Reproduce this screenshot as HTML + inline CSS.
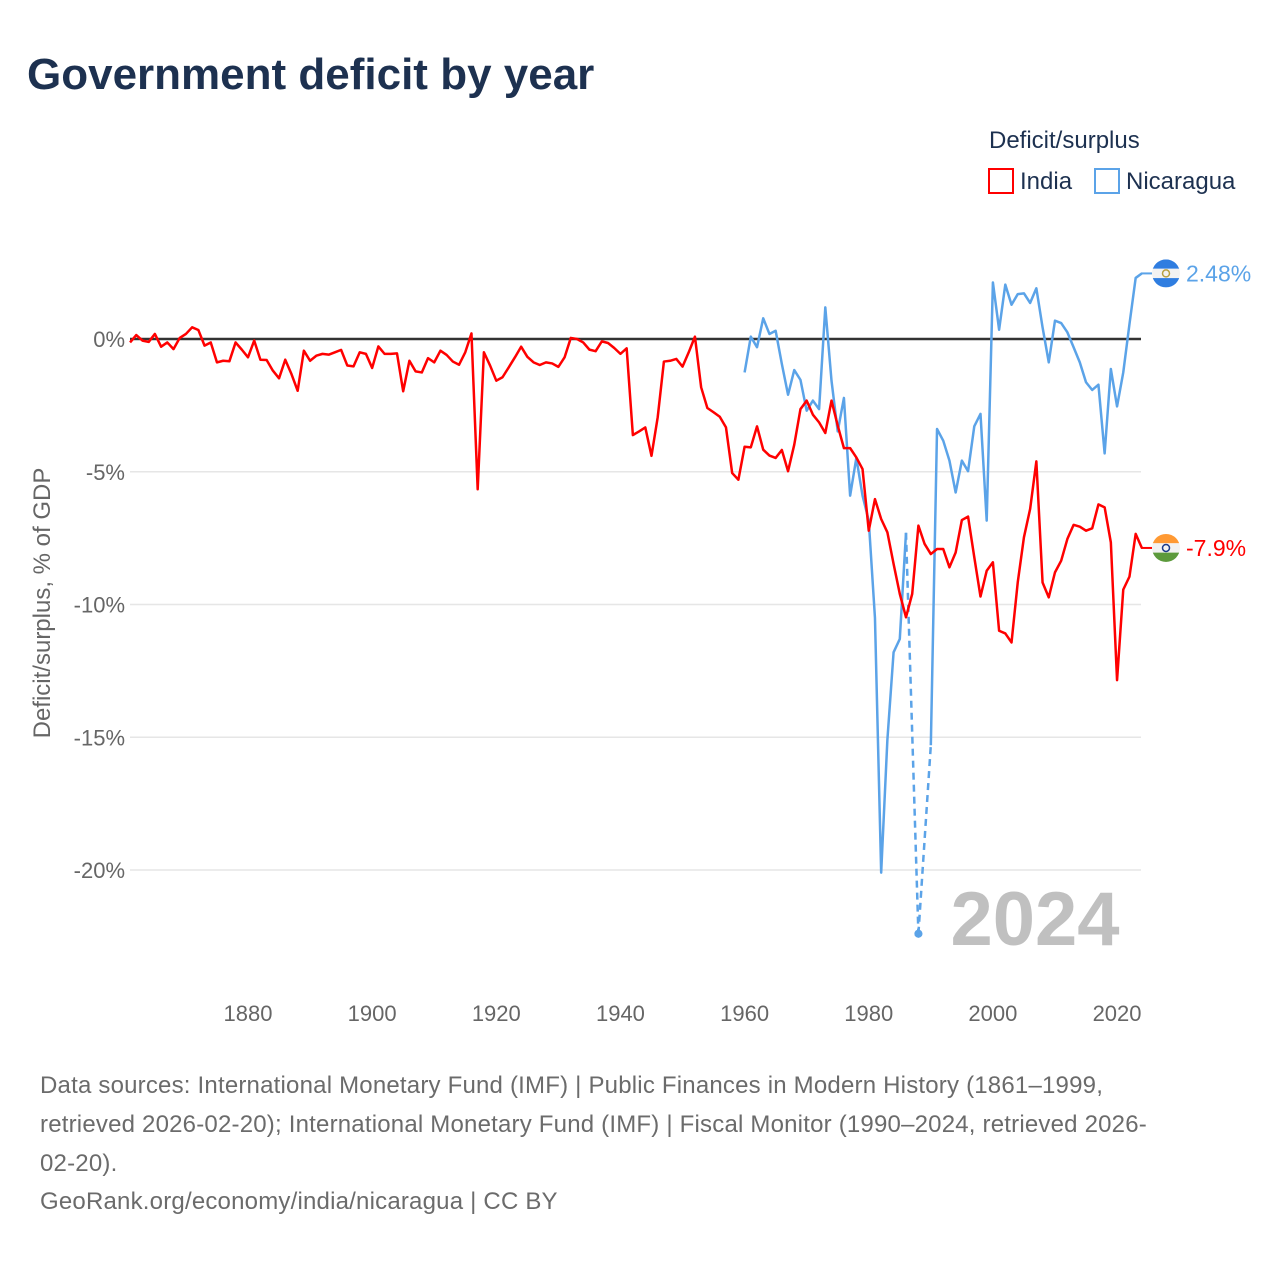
<!DOCTYPE html>
<html><head><meta charset="utf-8"><style>
body{margin:0;background:#fff;font-family:"Liberation Sans",sans-serif;}
#wrap{position:relative;width:1280px;height:1280px;overflow:hidden;}
h1{position:absolute;left:27px;top:50px;margin:0;font-size:44px;font-weight:bold;color:#1d3150;letter-spacing:0px;}
.foot{position:absolute;left:40px;width:1230px;font-size:24px;color:#6b6b6b;line-height:39px;white-space:nowrap;letter-spacing:0.2px;}
</style></head><body>
<div id="wrap">
<h1>Government deficit by year</h1>
<svg id="chart" width="1280" height="1280" style="position:absolute;left:0;top:0"></svg>
<div class="foot" style="top:1066px">Data sources: International Monetary Fund (IMF) | Public Finances in Modern History (1861–1999,<br>retrieved 2026-02-20); International Monetary Fund (IMF) | Fiscal Monitor (1990–2024, retrieved 2026-<br>02-20).</div>
<div class="foot" style="top:1182px">GeoRank.org/economy/india/nicaragua | CC BY</div>
</div>
<script>
const indiaStart = 1861;
const indiaValues = [-0.13,0.15,-0.06,-0.11,0.19,-0.29,-0.13,-0.38,0.04,0.19,0.44,0.34,-0.25,-0.13,-0.88,-0.82,-0.84,-0.13,-0.4,-0.69,-0.06,-0.78,-0.79,-1.19,-1.48,-0.78,-1.32,-1.95,-0.44,-0.82,-0.63,-0.56,-0.59,-0.5,-0.41,-1.0,-1.03,-0.5,-0.56,-1.09,-0.28,-0.56,-0.56,-0.54,-1.97,-0.82,-1.22,-1.26,-0.72,-0.88,-0.44,-0.6,-0.85,-0.97,-0.5,0.21,-5.66,-0.5,-1.0,-1.57,-1.44,-1.07,-0.69,-0.29,-0.67,-0.88,-0.98,-0.88,-0.92,-1.05,-0.69,0.04,0.0,-0.13,-0.4,-0.46,-0.09,-0.15,-0.34,-0.56,-0.35,-3.62,-3.48,-3.33,-4.4,-2.95,-0.85,-0.82,-0.75,-1.04,-0.5,0.09,-1.82,-2.6,-2.76,-2.93,-3.33,-5.05,-5.3,-4.06,-4.08,-3.29,-4.17,-4.39,-4.48,-4.18,-4.98,-3.98,-2.64,-2.32,-2.85,-3.14,-3.54,-2.32,-3.26,-4.11,-4.11,-4.46,-4.9,-7.22,-6.03,-6.78,-7.28,-8.47,-9.6,-10.48,-9.6,-7.03,-7.72,-8.1,-7.91,-7.91,-8.6,-8.04,-6.82,-6.69,-8.22,-9.7,-8.73,-8.41,-10.99,-11.09,-11.43,-9.17,-7.47,-6.4,-4.61,-9.17,-9.73,-8.79,-8.35,-7.53,-7.0,-7.07,-7.22,-7.13,-6.23,-6.34,-7.66,-12.85,-9.44,-8.95,-7.34,-7.87];
const nicStart = 1960;
const nicValues = [-1.26,0.09,-0.31,0.78,0.19,0.31,-0.94,-2.1,-1.17,-1.54,-2.7,-2.32,-2.64,1.19,-1.57,-3.48,-2.22,-5.9,-4.48,-5.9,-6.84,-10.5,-20.1,-15.1,-11.8,-11.3,-7.3,null,-22.4,null,-15.3,-3.39,-3.83,-4.58,-5.78,-4.58,-4.98,-3.29,-2.82,-6.84,2.13,0.35,2.05,1.29,1.69,1.72,1.36,1.91,0.44,-0.88,0.69,0.6,0.25,-0.31,-0.88,-1.63,-1.92,-1.72,-4.31,-1.13,-2.54,-1.26,0.56,2.3,2.47];
const yTicks = [0,-5,-10,-15,-20];
const yTickLabels = ["0%","-5%","-10%","-15%","-20%"];
const xTicks = [1880,1900,1920,1940,1960,1980,2000,2020];

const NS="http://www.w3.org/2000/svg";
const svg=document.getElementById('chart');
const X0=130, X1=1141;
function xs(yr){return 248+(yr-1880)*6.2075;}
function ys(v){return 339-v*26.55;}
function mk(tag,attrs,parent){const e=document.createElementNS(NS,tag);for(const k in attrs)e.setAttribute(k,attrs[k]);(parent||svg).appendChild(e);return e;}

yTicks.forEach((t,i)=>{
  if(t!==0){const g=mk('line',{x1:X0,x2:X1,y1:ys(t),y2:ys(t),stroke:'#e6e6e6','stroke-width':1.5});
  
  }
  const l=mk('text',{x:125,y:ys(t)+8,'text-anchor':'end','font-size':22,fill:'#666'});
  l.textContent=yTickLabels[i];
  
  
});
xTicks.forEach(t=>{
  const l=mk('text',{x:xs(t),y:1021,'text-anchor':'middle','font-size':22,fill:'#666'});
  l.textContent=t;
  
  
});
const yt=mk('text',{x:0,y:0,transform:'translate(50,603) rotate(-90)','text-anchor':'middle','font-size':24,fill:'#666'});
yt.textContent='Deficit/surplus, % of GDP';



const zl=mk('line',{x1:X0,x2:X1,y1:ys(0),y2:ys(0),stroke:'#333','stroke-width':2.5});



const yr=mk('text',{x:1035,y:945,'text-anchor':'middle','font-size':76,'font-weight':'bold',fill:'#c0c0c0'});
yr.textContent='2024';



function drawSeries(start,vals,color,name){
  let seg=[],gapFrom=null;
  const segs=[],gaps=[];
  vals.forEach((v,i)=>{
    const p=[xs(start+i),v==null?null:ys(v)];
    if(v==null){if(seg.length){segs.push(seg);gapFrom=seg[seg.length-1];}seg=[];}
    else{
      if(gapFrom&&seg.length===0){gaps.push([gapFrom,p]);gapFrom=null;}
      seg.push(p);
    }
  });
  if(seg.length)segs.push(seg);
  gaps.forEach(g=>{
    const d=mk('path',{d:'M'+g[0][0]+','+g[0][1]+'L'+g[1][0]+','+g[1][1],stroke:color,'stroke-width':2.5,fill:'none','stroke-dasharray':'7,5'});
    
    
  });
  segs.forEach(s=>{
    if(s.length===1){const c=mk('circle',{cx:s[0][0],cy:s[0][1],r:4,fill:color});
      
      }
    else{const p=mk('path',{d:'M'+s.map(q=>q.join(',')).join('L'),stroke:color,'stroke-width':2.5,fill:'none','stroke-linejoin':'round'});
      
      }
  });
}
drawSeries(nicStart,nicValues,'#5ba3e8','nicaragua');
drawSeries(indiaStart,indiaValues,'#ff0000','india');

function endLabel(val,color,name,flag,text){
  const y=ys(val);
  const c=mk('line',{x1:X1,x2:1152,y1:y,y2:y,stroke:color,'stroke-width':2});
  
  
  const g=mk('g',{});
  
  
  const cx=1166,r=14;
  mk('clipPath',{id:'cp'+name},g);
  mk('circle',{cx:cx,cy:y,r:r},document.getElementById('cp'+name));
  const inner=mk('g',{'clip-path':'url(#cp'+name+')'},g);
  mk('rect',{x:cx-r,y:y-r,width:2*r,height:2*r/3,fill:flag[0]},inner);
  mk('rect',{x:cx-r,y:y-r/3,width:2*r,height:2*r/3,fill:flag[1]},inner);
  mk('rect',{x:cx-r,y:y+r/3,width:2*r,height:2*r/3,fill:flag[2]},inner);
  mk('circle',{cx:cx,cy:y,r:3.5,fill:'none',stroke:flag[3],'stroke-width':1.5},g);
  const t=mk('text',{x:1186,y:y+8,'font-size':23,fill:color});
  t.textContent=text;
  
  
}
endLabel(nicValues[nicValues.length-1],'#5ba3e8','nicaragua',['#2f7de0','#f2f2f2','#2f7de0','#b8a040'],'2.48%');
endLabel(indiaValues[indiaValues.length-1],'#ff0000','india',['#ff9933','#f2f2f2','#5c9a3c','#1a3a8a'],'-7.9%');

const lt=mk('text',{x:989,y:148,'font-size':24,fill:'#1d3150'});
lt.textContent='Deficit/surplus';


[['India','#ff0000',989],['Nicaragua','#5ba3e8',1095]].forEach(e=>{
  const b=mk('rect',{x:e[2],y:169,width:24,height:24,fill:'none',stroke:e[1],'stroke-width':2});
  
  
  const t=mk('text',{x:e[2]+31,y:189,'font-size':24,fill:'#1d3150'});
  t.textContent=e[0];
  
  
});
const dot=mk('circle',{cx:xs(1988),cy:ys(-22.4),r:4,fill:'#5ba3e8'});


</script>
</body></html>
